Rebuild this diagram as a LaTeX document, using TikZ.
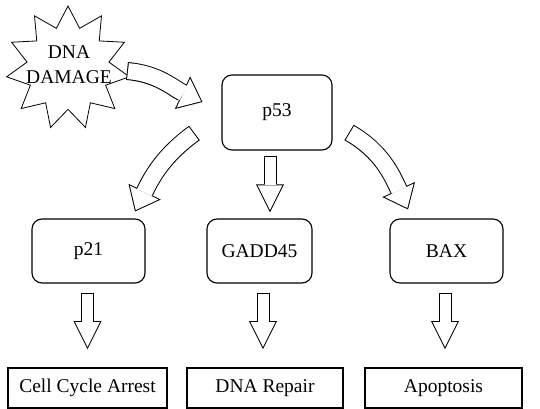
\documentclass[tikz,border=0pt]{standalone}
\usepackage{fontspec}
\setmainfont{Liberation Serif}
\usepackage{tikz}
\usetikzlibrary{arrows.meta,calc,shapes.geometric}

% hollow block arrow: outline pass, then white inside pass
\newcommand{\blockarrow}[4]{%
  \draw[#1] #3 to[#2] #4;
  \draw[#1 fill] #3 to[#2] #4;
}

\begin{document}
\begin{tikzpicture}[x=1pt, y=1pt, every node/.style={font=\fontsize{19.5}{25}\selectfont},%
        gene/.style={draw, line width=1.1pt, rounded corners=10pt, minimum width=#1, minimum height=64pt, inner sep=0pt},
        outcome/.style={draw, line width=1.8pt, minimum width=#1, minimum height=40pt, inner sep=0pt},
        dmgstar/.style={draw, line width=.8pt, star, star points=11, star point ratio=1.5, minimum size=124pt, inner sep=0pt},
        narrow/.style={line width=13pt, -{Triangle[length=28pt 0 0, width=28pt 0 0, line width=0pt 0 0]}},
        narrow fill/.style={white, line width=11pt, shorten <=1pt, shorten >=2.24pt, -{Triangle[length=24.76pt 0 0, width=24.76pt 0 0, line width=0pt 0 0]}},
        wide/.style={line width=18pt, -{Triangle[length=22pt 0 0, width=36pt 0 0, line width=0pt 0 0]}},
        wide fill/.style={white, line width=16pt, shorten <=1pt, shorten >=1.58pt, -{Triangle[length=19.42pt 0 0, width=31.78pt 0 0, line width=0pt 0 0]}}]
        \useasboundingbox (0,0) rectangle (540,409);

        \node[dmgstar] (dmg) at (68,341) {};
        \node[align=center, inner sep=0pt] (dmg-label) at ($(dmg.center)+(1,3)$) {DNA\\DAMAGE};

        \node[gene=110pt, minimum height=75pt] (p53) at (277,296.5) {p53};
        \node[gene=113pt] (p21) at (88.5,158) {p21};
        \node[gene=105pt] (gadd) at (259.5,158) {GADD45};
        \node[gene=113pt] (bax) at (446.5,158) {BAX};

        \node[outcome=159pt] (arrest) at (87.5,21) {Cell Cycle Arrest};
        \node[outcome=156pt] (repair) at (265,21) {DNA Repair};
        \node[outcome=157pt] (apop) at (443.5,21) {Apoptosis};

        % curved arrows
        \blockarrow{wide}{out=-5, in=155}{($(dmg.center)+(59,-3)$)}{($(p53.west)+(-19,10.5)$)}
        \blockarrow{wide}{out=216, in=64}{($(p53.west)+(-27,-20.5)$)}{($(p21.north)+(46.5,7)$)}
        \blockarrow{wide}{out=-30, in=115}{($(p53.east)+(16.5,-20)$)}{($(bax.north)+(-38.5,9)$)}

        % straight arrows
        \blockarrow{narrow}{}{($(p53.south)+(-7,-5)$)}{($(p53.south |- gadd.north)+(-7,6)$)}
        \blockarrow{narrow}{}{($(p21.south)+(-1,-9)$)}{($(p21.south |- arrest.north)+(-1,18)$)}
        \blockarrow{narrow}{}{($(gadd.south)+(3.5,-9)$)}{($(gadd.south |- repair.north)+(3.5,18)$)}
        \blockarrow{narrow}{}{($(bax.south)+(-1.5,-9)$)}{($(bax.south |- apop.north)+(-1.5,18)$)}
\end{tikzpicture}
\end{document}
